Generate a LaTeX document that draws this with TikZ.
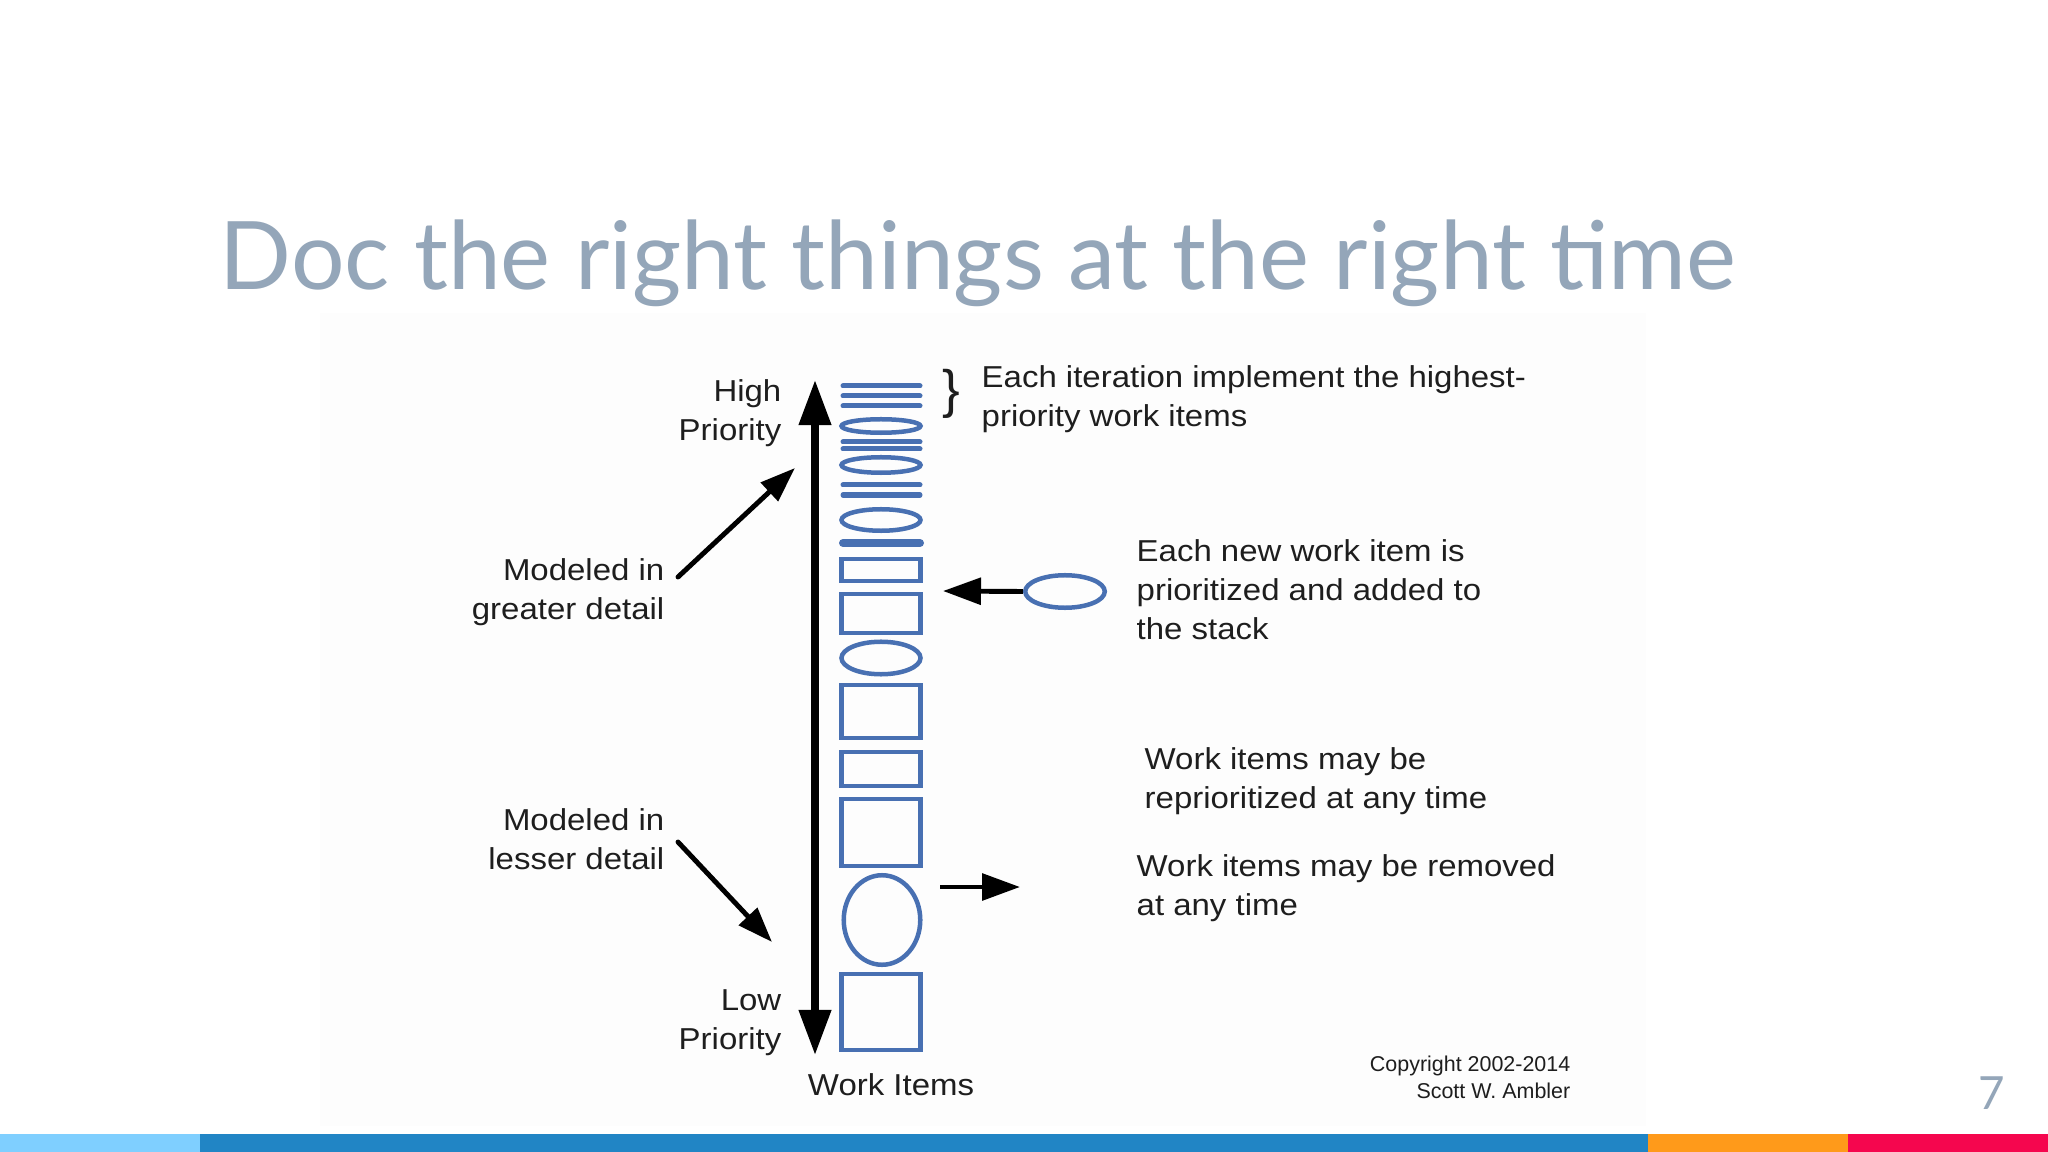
\documentclass[tikz,border=0pt]{standalone}
\usepackage{fontspec}
\setmainfont{Liberation Sans}
\newfontfamily\titlefont{Lato}
\usetikzlibrary{arrows.meta,shapes.geometric}
\definecolor{itemblue}{RGB}{72,112,178}
\definecolor{titlegray}{RGB}{148,166,185}
\definecolor{txt}{RGB}{30,30,30}
\definecolor{barlight}{RGB}{127,207,255}
\definecolor{barblue}{RGB}{33,133,197}
\definecolor{barorange}{RGB}{255,154,26}
\definecolor{barred}{RGB}{245,6,78}
\newcommand{\wideL}[1]{\scalebox{1.09}[1]{\begin{tabular}{@{}l@{}}#1\end{tabular}}}
\newcommand{\wideR}[1]{\scalebox{1.09}[1]{\begin{tabular}{@{}r@{}}#1\end{tabular}}}
\tikzset{
  lbl/.style={inner sep=0pt, text=txt, font=\fontsize{8.6}{11.1}\selectfont},
  stackrect/.style={draw=itemblue, line width=0.45mm, inner sep=0pt, minimum width=7.9mm},
  stackell/.style={ellipse, draw=itemblue, line width=0.45mm, inner sep=0pt, minimum width=7.9mm},
  itemline/.style={draw=itemblue, line width=0.5mm, line cap=round},
  bigarrow/.style={line width=2.1pt, draw=black, {Triangle[length=12.8pt,width=8.8pt]}-{Triangle[length=12.8pt,width=8.8pt]}},
  diagarrow/.style={line width=1.4pt, draw=black, line cap=round, -{Triangle[length=10pt,width=7pt]}},
  harrow/.style={line width=1.4pt, draw=black, -{Triangle[length=10.8pt,width=7.5pt]}}
}
\begin{document}
\begin{tikzpicture}[x=0.01cm,y=-0.01cm]
\useasboundingbox (0,0) rectangle (2048,1152);
\fill[white] (0,0) rectangle (2048,1152);
\fill[black!0.8] (320,313) rectangle (1646,1126);
% title
\node[anchor=base west, inner sep=0pt, text=titlegray, font=\titlefont\fontsize{26.9}{30}\selectfont] (title) at (219,290) {Doc the right things at the right time};
% main priority arrow
\coordinate (hightip) at (815,380);
\coordinate (lowtip) at (815,1055);
\draw[bigarrow] (hightip) -- (lowtip);
% stack lines
\draw[itemline] (843,386) -- (920,386);
\draw[itemline] (843,396) -- (920,396);
\draw[itemline] (843,406) -- (920,406);
\draw[itemline] (843,442) -- (920,442);
\draw[itemline] (843,449) -- (920,449);
\draw[itemline] (843,485) -- (920,485);
\draw[itemline] (843,495) -- (920,495);
\draw[itemline, line width=0.8mm] (843,543) -- (920,543);
% stack ellipses
\node[stackell, minimum height=1.35mm] (e1) at (881,426) {};
\node[stackell, minimum height=1.55mm] (e2) at (881,465) {};
\node[stackell, minimum height=2.15mm] (e3) at (881,520) {};
\node[stackell, minimum height=3.25mm] (e4) at (881,658) {};
\node[stackell, minimum height=8.95mm, minimum width=7.65mm] (e5) at (882,920) {};
% stack rectangles
\node[stackrect, minimum height=2.15mm] (r1) at (881,570) {};
\node[stackrect, minimum height=3.85mm] (r2) at (881,613.5) {};
\node[stackrect, minimum height=5.25mm] (r3) at (881,711.5) {};
\node[stackrect, minimum height=3.35mm] (r4) at (881,769) {};
\node[stackrect, minimum height=6.65mm] (r5) at (881,832.5) {};
\node[stackrect, minimum height=7.55mm] (r6) at (881,1012) {};
% brace
\node[inner sep=0pt, text=txt, font=\fontsize{15}{15}\selectfont] (brace) at (951,394) {\}};
% labels left
\node[lbl, anchor=east] (high) at (782,413) {\wideR{High\\Priority}};
\node[lbl, anchor=east] (greater) at (665,592.5) {\wideR{Modeled in\\greater detail}};
\node[lbl, anchor=east] (lesser) at (665,842.5) {\wideR{Modeled in\\lesser detail}};
\node[lbl, anchor=east] (low) at (782,1022.5) {\wideR{Low\\Priority}};
\node[lbl] (workitems) at (891,1088) {\wideL{Work Items}};
% diagonal arrows
\coordinate (g0) at (678,577);
\coordinate (g1) at (795,468);
\coordinate (l0) at (678,842);
\coordinate (l1) at (772,942);
\draw[diagarrow] (g0) -- (g1);
\draw[diagarrow] (l0) -- (l1);
% right labels
\node[lbl, anchor=west] (iter) at (981,399) {\wideL{Each iteration implement the highest-\\priority work items}};
\node[lbl, anchor=west] (newtxt) at (1136,592.5) {\wideL{Each new work item is\\prioritized and added to\\the stack}};
\node[lbl, anchor=west] (repri) at (1144,781.5) {\wideL{Work items may be\\reprioritized at any time}};
\node[lbl, anchor=west] (removed) at (1136,888.5) {\wideL{Work items may be removed\\at any time}};
% new item
\node[ellipse, draw=itemblue, line width=0.45mm, inner sep=0pt, minimum width=7.95mm, minimum height=3.25mm] (newitem) at (1065,591.5) {};
\coordinate (newtip) at (943,591);
\draw[harrow] (newitem.west) -- (newtip);
% removal arrow
\coordinate (rm0) at (940,887);
\coordinate (rm1) at (1020,887);
\draw[harrow] (rm0) -- (rm1);
% copyright
\node[inner sep=0pt, anchor=east, align=right, text=txt, font=\fontsize{6.1}{7.7}\selectfont] (copy) at (1571,1077.5) {Copyright 2002-2014\\Scott W. Ambler};
% page number
\node[inner sep=0pt, text=titlegray, font=\titlefont\fontsize{13}{13}\selectfont] (pagenum) at (1992,1093) {7};
% bottom bar
\fill[barlight] (0,1134) rectangle (200,1152);
\fill[barblue] (200,1134) rectangle (1648,1152);
\fill[barorange] (1648,1134) rectangle (1848,1152);
\fill[barred] (1848,1134) rectangle (2048,1152);
\end{tikzpicture}
\end{document}
